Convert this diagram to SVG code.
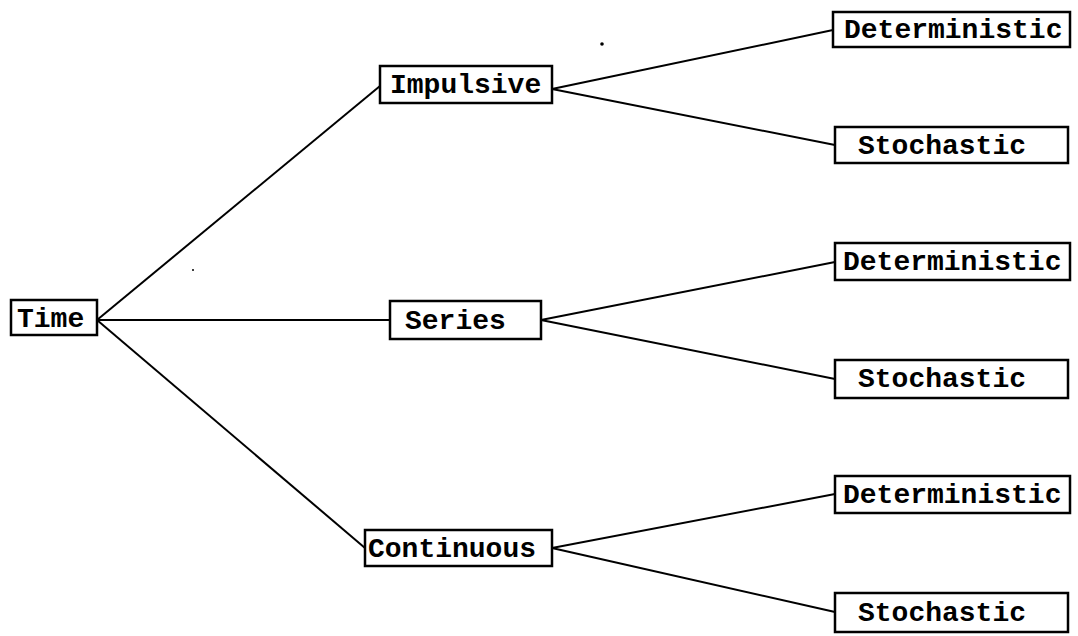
<svg xmlns="http://www.w3.org/2000/svg" width="1078" height="636" viewBox="0 0 1078 636">
  <style>
    .box { fill: #ffffff; stroke: #000000; stroke-width: 2.5; }
    .lbl { font-family: "Liberation Mono", "DejaVu Sans Mono", monospace; font-size: 28px; font-weight: bold; fill: #000000; }
    .edge { fill: none; stroke: #000000; stroke-width: 2; }
  </style>
  <rect width="1078" height="636" fill="#ffffff"/>

  <!-- connectors -->
  <g id="connectors">
    <line class="edge" x1="97" y1="320" x2="380" y2="86"/>
    <line class="edge" x1="97" y1="320" x2="390" y2="320"/>
    <line class="edge" x1="97" y1="320" x2="365" y2="548"/>
    <line class="edge" x1="552" y1="89" x2="833" y2="30"/>
    <line class="edge" x1="552" y1="89" x2="835" y2="145"/>
    <line class="edge" x1="541" y1="320" x2="835" y2="262"/>
    <line class="edge" x1="541" y1="320" x2="835" y2="379"/>
    <line class="edge" x1="552" y1="548" x2="835" y2="494"/>
    <line class="edge" x1="552" y1="548" x2="835" y2="612"/>
  </g>

  <g id="time">
    <rect class="box" x="11" y="300" width="86" height="35"/>
    <text class="lbl" x="17" y="327">Time</text>
  </g>

  <g id="impulsive">
    <rect class="box" x="380" y="66" width="172" height="37"/>
    <text class="lbl" x="390" y="93">Impulsive</text>
  </g>
  <g id="series">
    <rect class="box" x="390" y="301" width="151" height="38"/>
    <text class="lbl" x="405" y="329">Series</text>
  </g>
  <g id="continuous">
    <rect class="box" x="365" y="530" width="187" height="36"/>
    <text class="lbl" x="368" y="557">Continuous</text>
  </g>

  <g id="impulsive-deterministic">
    <rect class="box" x="833" y="12" width="237" height="35"/>
    <text class="lbl" x="844" y="38">Deterministic</text>
  </g>
  <g id="impulsive-stochastic">
    <rect class="box" x="835" y="127" width="233" height="36"/>
    <text class="lbl" x="858" y="154">Stochastic</text>
  </g>
  <g id="series-deterministic">
    <rect class="box" x="835" y="243" width="235" height="37"/>
    <text class="lbl" x="843" y="270">Deterministic</text>
  </g>
  <g id="series-stochastic">
    <rect class="box" x="835" y="360" width="233" height="38"/>
    <text class="lbl" x="858" y="387">Stochastic</text>
  </g>
  <g id="continuous-deterministic">
    <rect class="box" x="835" y="476" width="235" height="37"/>
    <text class="lbl" x="843" y="503">Deterministic</text>
  </g>
  <g id="continuous-stochastic">
    <rect class="box" x="835" y="593" width="233" height="39"/>
    <text class="lbl" x="858" y="621">Stochastic</text>
  </g>

  <!-- stray specks -->
  <circle cx="602" cy="44" r="1.8" fill="#000000"/>
  <circle cx="193" cy="270" r="1" fill="#000000"/>
</svg>
